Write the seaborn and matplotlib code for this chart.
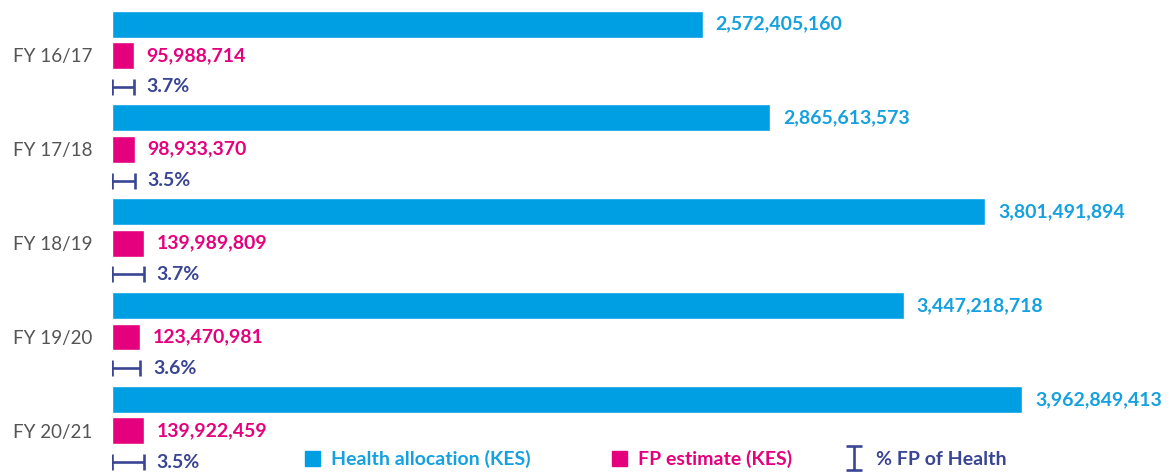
import numpy as np
import pandas as pd
import matplotlib
matplotlib.use('Agg')
import matplotlib.pyplot as plt
import seaborn as sns
from matplotlib.patches import Patch
from matplotlib.lines import Line2D
from matplotlib.path import Path

years = ['FY 16/17', 'FY 17/18', 'FY 18/19', 'FY 19/20', 'FY 20/21']
health = [2572405160, 2865613573, 3801491894, 3447218718, 3962849413]
fp = [95988714, 98933370, 139989809, 123470981, 139922459]
pct = [3.7, 3.5, 3.7, 3.6, 3.5]

series_names = ['Health allocation (KES)', 'FP estimate (KES)', '% FP of Health']

blue = '#009FE3'
blue_txt = '#15A1DF'
magenta = '#E5007D'
navy = '#3A4594'
gray = '#555555'

sns.set_style('white')
plt.rcParams['font.family'] = ['Lato', 'DejaVu Sans']

# long-form table: three slots per year (health bar, FP bar, % glyph)
rows = []
order = []
for y, h, f in zip(years, health, fp):
    rows.append({'slot': f'{y} h', 'value': h, 'series': series_names[0]})
    rows.append({'slot': f'{y} f', 'value': f, 'series': series_names[1]})
    order += [f'{y} h', f'{y} f', f'{y} p']
df = pd.DataFrame(rows)

fig = plt.figure(figsize=(11.75, 4.74), dpi=100)
ax = fig.add_axes([112 / 1175, 0, 1 - 112 / 1175, 1])

sns.barplot(data=df, x='value', y='slot', hue='series', order=order,
            hue_order=series_names[:2], palette=[blue, magenta],
            dodge=False, width=0.86, saturation=1, legend=False,
            orient='h', ax=ax)

fs = 14
for i, (h, f, p) in enumerate(zip(health, fp, pct)):
    yh, yf, yp = order.index(f'{years[i]} h'), order.index(f'{years[i]} f'), order.index(f'{years[i]} p')
    ax.annotate(f'{h:,}', xy=(h, yh), xytext=(9, 0), textcoords='offset points',
                va='center', ha='left', fontsize=fs, fontweight='bold', color=blue_txt)
    ax.annotate(f'{f:,}', xy=(f, yf), xytext=(9, 0), textcoords='offset points',
                va='center', ha='left', fontsize=fs, fontweight='bold', color=magenta)
    ax.errorbar(f / 2, yp, xerr=f / 2, fmt='none', ecolor=navy, elinewidth=1.9,
                capsize=6, capthick=1.9)
    ax.annotate(f'{p}%', xy=(f, yp), xytext=(9, 0), textcoords='offset points',
                va='center', ha='left', fontsize=fs, fontweight='bold', color=navy)

ax.set_xlim(0, 4.627e9)
ax.set_ylim(14.38, -0.77)
ax.set_yticks([order.index(f'{y} f') for y in years])
ax.set_yticklabels(years, fontsize=13.5, color=gray)
ax.tick_params(axis='y', length=0, pad=14)
ax.set_xticks([])
ax.set_xlabel('')
ax.set_ylabel('')
for s in ax.spines.values():
    s.set_visible(False)

# "I" shaped glyph for the % legend entry
i_shape = Path([(-0.35, 0.5), (0.35, 0.5), (0, 0.5), (0, -0.5), (-0.35, -0.5), (0.35, -0.5)],
               [Path.MOVETO, Path.LINETO, Path.MOVETO, Path.LINETO, Path.MOVETO, Path.LINETO])
i_handle = Line2D([], [], marker=i_shape, markersize=17, markeredgewidth=1.9,
                  markeredgecolor=navy, markerfacecolor='none', linestyle='none')

handles = [Patch(color=blue), Patch(color=magenta), i_handle]
xs = [305, 612, 846]
pads = [0.55, 0.55, 0.75]
for hnd, name, col, x0, pad in zip(handles, series_names, [blue_txt, magenta, navy], xs, pads):
    leg = fig.legend([hnd], [name], loc='center left',
                     bbox_to_anchor=(x0 / 1175, 1 - 459 / 474),
                     frameon=False, borderpad=0, borderaxespad=0,
                     handlelength=0.78, handleheight=0.78, handletextpad=pad,
                     prop={'size': fs, 'weight': 'bold'})
    for t in leg.get_texts():
        t.set_color(col)

fig.savefig('out.png', dpi=100)
